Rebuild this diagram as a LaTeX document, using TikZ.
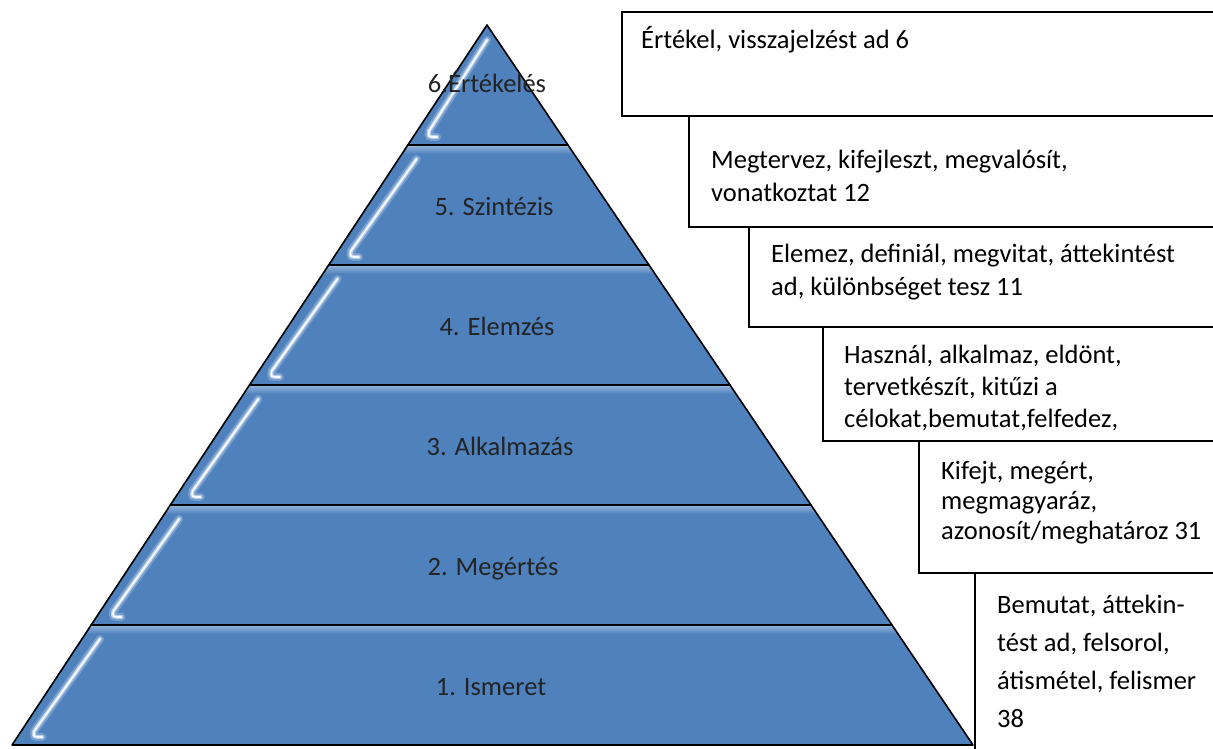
\documentclass[tikz,border=0pt]{standalone}
\usepackage{fontspec}
\setmainfont{Carlito}
\definecolor{pyrblue}{RGB}{79,129,189}
\definecolor{pyrlight}{RGB}{150,182,222}
\definecolor{labelgray}{RGB}{35,35,35}
\tikzset{
  layeredge/.style={draw=black, line width=1.6pt, line join=round},
  boxedge/.style={draw=black, line width=2pt},
  lvl/.style={anchor=base, inner sep=0pt, text=labelgray},
  boxtext/.style={anchor=base west, inner sep=0pt, text=black},
  glowA/.style={pyrlight, line width=8pt, opacity=0.55, line cap=round},
  glowM/.style={white, line width=4pt, opacity=0.5, line cap=round},
  glowB/.style={white, line width=1.6pt, opacity=0.95, line cap=round}
}
\begin{document}
\begin{tikzpicture}[x=1pt, y=-1pt,
  font=\fontsize{26.5}{32.5}\selectfont,
  declare function={xl(\y)=487-0.6597*(\y-25); xr(\y)=487+0.675*(\y-25);}]
\useasboundingbox (0,0) rectangle (1213,749);

% ---- pyramid layers (trapezoids) ----
\foreach \t/\b in {145/265,265/385,385/505,505/625,625/745}{
  \begin{scope}
    \clip ({xl(\t)},\t) -- ({xr(\t)},\t) -- ({xr(\b)},\b) -- ({xl(\b)},\b) -- cycle;
    \fill[pyrblue] (0,\t) rectangle (1213,\b);
    \shade[top color=pyrlight, bottom color=pyrblue] (0,\t) rectangle (1213,\t+9);
    \foreach \st in {glowA,glowM,glowB}{
      \draw[\st] ({xl(\t+14)+18},\t+14)
         -- ({xl(\b-14)+13},\b-14) .. controls ({xl(\b-14)+12},\b-8) .. ({xl(\b-14)+21},\b-8);
    }
  \end{scope}
  \draw[layeredge] ({xl(\t)},\t) -- ({xr(\t)},\t) -- ({xr(\b)},\b) -- ({xl(\b)},\b) -- cycle;
}
% top triangle
\begin{scope}
  \clip (487,25) -- ({xr(145)},145) -- ({xl(145)},145) -- cycle;
  \fill[pyrblue] (0,0) rectangle (1213,145);
  \foreach \st in {glowA,glowM,glowB}{
    \draw[\st] (487,40) -- ({xl(131)+12},131) .. controls ({xl(131)+11},137) .. ({xl(131)+20},137);
  }
\end{scope}
\draw[layeredge] (487,25) -- ({xr(145)},145) -- ({xl(145)},145) -- cycle;

% ---- level labels ----
\node[lvl] (l6) at (487,93) {6.Értékelés};
\node[lvl] (l5) at (494,215) {5. Szintézis};
\node[lvl] (l4) at (497,335) {4. Elemzés};
\node[lvl] (l3) at (500,455) {3. Alkalmazás};
\node[lvl] (l2) at (493,575) {2. Megértés};
\node[lvl] (l1) at (491,695) {1. Ismeret};

% ---- staircase of text boxes ----
\begin{scope}
  \clip (0,0) rectangle (1213,749);
  \draw[boxedge] (1220,12) -- (622,12) -- (622,116) -- (1220,116);
  \draw[boxedge] (689,116) -- (689,227) -- (1220,227);
  \draw[boxedge] (749,227) -- (749,327) -- (1220,327);
  \draw[boxedge] (823,327) -- (823,441) -- (1220,441);
  \draw[boxedge] (919,441) -- (919,573) -- (1220,573);
  \draw[boxedge] (975,573) -- (975,760);
\end{scope}

\node[boxtext] (b1) at (641,49) {Értékel, visszajelzést ad 6};
\node[boxtext] (b2) at (711,168) {\vtop{\baselineskip=33pt\hbox{Megtervez, kifejleszt, megvalósít,}\hbox{vonatkoztat 12}}};
\node[boxtext] (b3) at (771,262) {\vtop{\baselineskip=33pt\hbox{Elemez, definiál, megvitat, áttekintést}\hbox{ad, különbséget tesz 11}}};
\node[boxtext] (b4) at (844,363) {\vtop{\baselineskip=32pt\hbox{Használ, alkalmaz, eldönt,}\hbox{tervetkészít, kitűzi a}\hbox{célokat,bemutat,felfedez,}}};
\node[boxtext] (b5) at (941,479) {\vtop{\baselineskip=30pt\hbox{Kifejt, megért,}\hbox{megmagyaráz,}\hbox{azonosít/meghatároz 31}}};
\node[boxtext] (b6) at (997,613) {\vtop{\baselineskip=38pt\hbox{Bemutat, áttekin-}\hbox{tést ad, felsorol,}\hbox{átismétel, felismer}\hbox{38}}};
\end{tikzpicture}
\end{document}
